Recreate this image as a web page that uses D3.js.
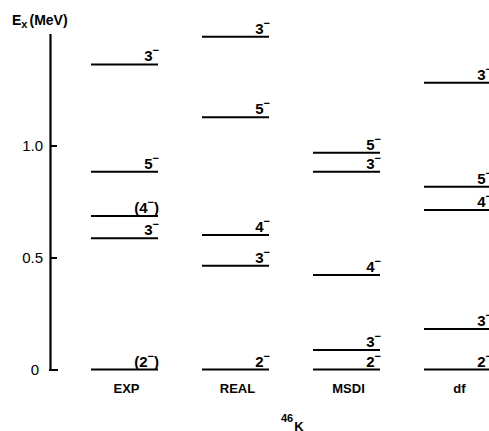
<!DOCTYPE html>
<html>
<head>
<meta charset="utf-8">
<script src="https://cdn.jsdelivr.net/npm/d3@7"></script>
<style>
  html, body { margin: 0; padding: 0; background: #fff; }
  svg { display: block; }
  text { font-family: "Liberation Sans", Arial, sans-serif; fill: #000; }
</style>
</head>
<body>
<svg id="chart" width="489" height="431"></svg>
<script>
// Calculated and measured negative-parity levels of 46K (MeV).
const columns = ["EXP", "REAL", "MSDI", "df"];

const expEnergy  = [0, 0.586, 0.685, 0.883, 1.362];
const expLabel   = ["(2-)", "3-", "(4-)", "5-", "3-"];

const realEnergy = [0, 0.463, 0.600, 1.126, 1.486];
const realLabel  = ["2-", "3-", "4-", "5-", "3-"];

const msdiEnergy = [0, 0.087, 0.422, 0.883, 0.968];
const msdiLabel  = ["2-", "3-", "4-", "3-", "5-"];

const dfEnergy   = [0, 0.181, 0.712, 0.816, 1.280];
const dfLabel    = ["2-", "3-", "4-", "5-", "3-"];

const yTicks = [0, 0.5, 1.0];
const yTickLabels = ["0", "0.5", "1.0"];

const levelSets = [
  { column: "EXP",  energy: expEnergy,  label: expLabel },
  { column: "REAL", energy: realEnergy, label: realLabel },
  { column: "MSDI", energy: msdiEnergy, label: msdiLabel },
  { column: "df",   energy: dfEnergy,   label: dfLabel }
];

const levels = levelSets.flatMap(s =>
  s.energy.map((e, i) => ({ column: s.column, energy: e, label: s.label[i] })));

const svg = d3.select("#chart");

const y = d3.scaleLinear().domain([0, 1.5]).range([369.5, 33.5]);
const x = d3.scaleBand().domain(columns).range([91, 491]).paddingInner(44 / 111).paddingOuter(0);

// Energy axis: ticks point inward, labels on the left
const axisX = 50;
const axis = d3.axisLeft(y)
  .tickValues(yTicks)
  .tickFormat((d, i) => yTickLabels[i])
  .tickSizeInner(-7)
  .tickSizeOuter(0)
  .tickPadding(7);

const ag = svg.append("g")
  .attr("transform", `translate(${axisX},0)`)
  .call(axis);
ag.select(".domain").attr("stroke", "#000").attr("stroke-width", 2.2);
ag.selectAll(".tick line").attr("stroke", "#000").attr("stroke-width", 2);
ag.selectAll(".tick text")
  .attr("font-size", 15)
  .attr("font-family", "Liberation Sans, Arial, sans-serif")
  .attr("fill", "#000");
ag.selectAll(".tick").filter(d => d === 0).select("text")
  .attr("x", -15).attr("text-anchor", "middle");
ag.selectAll(".tick").filter(d => d === 0).select("line")
  .attr("x1", -1).attr("x2", 8);

// Axis title E_x (MeV)
const title = svg.append("text")
  .attr("x", 12).attr("y", 25)
  .attr("font-size", 14)
  .attr("font-weight", "bold");
title.append("tspan").text("E");
title.append("tspan").attr("font-size", 11).attr("dy", 3).text("x");
title.append("tspan").attr("dy", -3).attr("dx", 2).text("(MeV)");

// Level lines
svg.append("g").selectAll("line")
  .data(levels)
  .join("line")
  .attr("x1", d => x(d.column))
  .attr("x2", d => x(d.column) + x.bandwidth())
  .attr("y1", d => y(d.energy))
  .attr("y2", d => y(d.energy))
  .attr("stroke", "#000")
  .attr("stroke-width", 2);

// Spin-parity labels: "-" is drawn as a raised minus
const lg = svg.append("g");
levels.forEach(d => {
  const t = lg.append("text")
    .attr("x", x(d.column) + x.bandwidth() + 1)
    .attr("y", y(d.energy) - 3)
    .attr("text-anchor", "end")
    .attr("font-size", 15)
    .attr("font-weight", "bold");
  const m = d.label.match(/^(\(?)(\d+)-(\)?)$/);
  t.append("tspan").text(m[1] + m[2]);
  t.append("tspan").attr("font-size", 11).attr("dy", -7).text("\u2212");
  if (m[3]) t.append("tspan").attr("dy", 7).text(m[3]);
});

// Column names
svg.append("g").selectAll("text")
  .data(columns)
  .join("text")
  .attr("x", d => x(d) + x.bandwidth() / 2 + 2)
  .attr("y", 393)
  .attr("text-anchor", "middle")
  .attr("font-size", 13)
  .attr("font-weight", "bold")
  .text(d => d);

// Nucleus label
const nuc = svg.append("text")
  .attr("x", 281).attr("y", 422)
  .attr("font-size", 11)
  .attr("font-weight", "bold");
nuc.append("tspan").text("46");
nuc.append("tspan").attr("font-size", 13).attr("dy", 8.5).attr("dx", 1).text("K");
</script>
</body>
</html>
